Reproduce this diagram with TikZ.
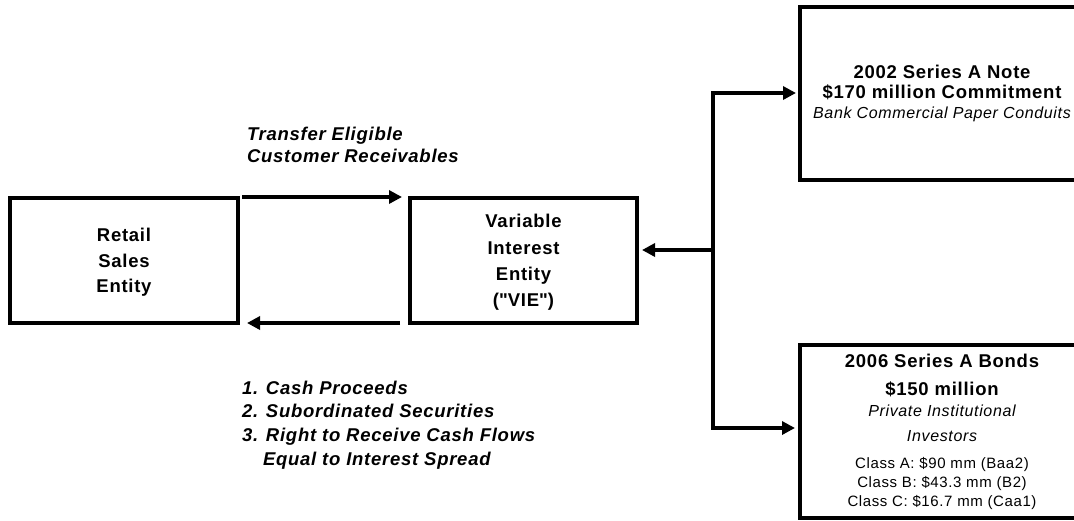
\documentclass[tikz,border=0pt]{standalone}
\usepackage{fontspec}
\setmainfont{Liberation Sans}[LetterSpace=4]
\usetikzlibrary{arrows.meta,calc}
\newcommand\myfb{\fontsize{18.5}{19}\selectfont\bfseries}
\newcommand\myfi{\fontsize{16}{19}\selectfont\itshape}
\newcommand\myfr{\fontsize{15}{19}\selectfont}
\tikzset{
  box/.style={draw=black, line width=4pt, outer sep=0pt, inner sep=0pt, align=center, fill=white},
  arr/.style={line width=3.5pt, line join=miter, -{Triangle[length=13pt,width=13pt]}},
  lbl/.style={inner sep=0pt, outer sep=0pt, align=left, anchor=north west,
    font=\bfseries\itshape},
}
\begin{document}
\begin{tikzpicture}[x=1pt,y=-1pt]
\useasboundingbox (0,0) rectangle (1074,520);
\fill[white] (0,0) rectangle (1074,520);
\clip (0,0) rectangle (1074,520);

\node[box, minimum width=228pt, minimum height=125pt,
  font=\fontsize{18.5}{25.5}\selectfont\bfseries] (retail) at (124,260.5)
  {\rule{0pt}{17pt}Retail\\Sales\\Entity};
\node[box, minimum width=227pt, minimum height=125pt,
  font=\fontsize{18.5}{26.3}\selectfont\bfseries] (vie) at (523.5,260.5)
  {\rule{0pt}{17.5pt}Variable\\Interest\\Entity\\(\textquotedbl VIE\textquotedbl)};
\node[box, minimum width=284pt, minimum height=173pt,
  font=\fontsize{18.5}{20}\selectfont] (note) at (942,93)
  {{\myfb 2002 Series A Note}\\{\myfb \$170 million Commitment}\\{\myfi Bank Commercial Paper Conduits}};
\node[box, minimum width=284pt, minimum height=173pt,
  font=\fontsize{15}{19}\selectfont] (bonds) at (942,431.5)
  {{\myfb 2006 Series A Bonds}\\[9pt]{\myfb \$150 million}\\[2pt]{\myfi Private Institutional}\\[6pt]{\myfi Investors}\\[8pt]{\myfr Class A: \$90 mm (Baa2)}\\{\myfr Class B: \$43.3 mm (B2)}\\{\myfr Class C: \$16.7 mm (Caa1)}};

\node[lbl, font=\fontsize{18.5}{22}\selectfont\bfseries\itshape] (transfer) at (247,126.8)
  {Transfer Eligible\\Customer Receivables};
\node[lbl, font=\fontsize{18.5}{23.7}\selectfont\bfseries\itshape] (proceeds) at (242,380.8)
  {1. Cash Proceeds\\2. Subordinated Securities\\3. Right to Receive Cash Flows\\\hspace*{21pt}Equal to Interest Spread};

\draw[arr] ($(retail.north east)+(4,-1)$) -- ($(vie.north west)+(-8,-1)$);
\draw[arr] ($(vie.south west)+(-10,0)$) -- ($(retail.south east)+(9,0)$);

\coordinate (jt) at (713,93);
\coordinate (jb) at (713,428);
\coordinate (jc) at (713,250);
\draw[arr, shorten >=4pt] (jb) -- (jt) -- (jt -| note.west);
\draw[arr, shorten >=5pt] (jt) -- (jb) -- (jb -| bonds.west);
\draw[arr] (jc) -- ($(jc -| vie.east)+(5,0)$);
\end{tikzpicture}
\end{document}
